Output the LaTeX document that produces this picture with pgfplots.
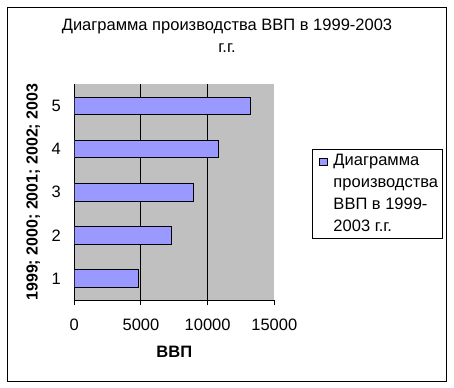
\documentclass[border=0pt]{standalone}
\usepackage{fontspec}
\setmainfont{Liberation Sans}
\usepackage{pgfplots}
\pgfplotsset{compat=1.18}
\definecolor{barblue}{HTML}{9999FF}
\definecolor{plotgray}{HTML}{C0C0C0}
\begin{document}
\begin{tikzpicture}
\path[use as bounding box] (0,0) rectangle (454bp,-388bp);
\draw[line width=1bp] (7bp,-7bp) rectangle (446bp,-381bp);
\node[font=\fontsize{16.5bp}{22bp}\selectfont, align=center] at (227bp,-36bp) {Диаграмма производства ВВП в 1999-2003\\г.г.};
\begin{axis}[
  at={(74.3bp,-300bp)}, anchor=south west,
  scale only axis, width=200bp, height=215.7bp,
  xbar, bar width=17.7bp,
  xmin=0, xmax=15000, ymin=0.5, ymax=5.5,
  axis background/.style={fill=plotgray},
  axis x line*=bottom, axis y line*=left,
  axis line style={line width=1bp},
  tick align=outside,
  major tick length=5bp,
  tick style={black, line width=1bp},
  xtick={0,5000,10000,15000},
  scaled x ticks=false,
  xticklabel style={yshift=-10bp, /pgf/number format/1000 sep={}, /pgf/number format/assume math mode=true},
  ticklabel style={font=\fontsize{16.5bp}{18bp}\selectfont},
  ytick={1,2,3,4,5},
  ytick style={draw=none},
  yticklabel style={xshift=-5bp, /pgf/number format/assume math mode=true},
  extra x ticks={5000,10000},
  extra x tick labels={},
  extra x tick style={grid=major, major grid style={black, line width=1bp}, major tick length=0pt},
  extra y ticks={0.5,1.5,2.5,3.5,4.5,5.5},
  extra y tick labels={},
  extra y tick style={major tick length=5bp, tick style={draw=black}},
  xlabel={\textbf{ВВП}},
  xlabel style={font=\fontsize{16.5bp}{18bp}\selectfont, at={(axis description cs:0.5,-0.241)}, anchor=center},
  ylabel={\textbf{1999; 2000; 2001; 2002; 2003}},
  ylabel style={font=\fontsize{16bp}{18bp}\selectfont, at={(axis description cs:-0.205,0.50)}, anchor=center, rotate=0},
  legend style={at={(axis description cs:1.1885,0.70)}, anchor=north west, draw=black, line width=1bp,
    font=\fontsize{16.5bp}{22bp}\selectfont, cells={align=left, anchor=west}, inner xsep=2bp, inner ysep=3bp},
  legend image code/.code={\path[draw=none, fill=none] (0bp,30bp) -- (17bp,30bp);
    \draw[fill=barblue, draw=black, line width=0.8bp] (5bp,28.5bp) rectangle (13bp,36bp);},
]
\addplot[fill=barblue, draw=black, line width=1bp] coordinates {(4823,1) (7306,2) (8944,3) (10834,4) (13243,5)};
\addlegendentry{Диаграмма\\производства\\ВВП в 1999-\\2003 г.г.}
\end{axis}
\end{tikzpicture}
\end{document}
